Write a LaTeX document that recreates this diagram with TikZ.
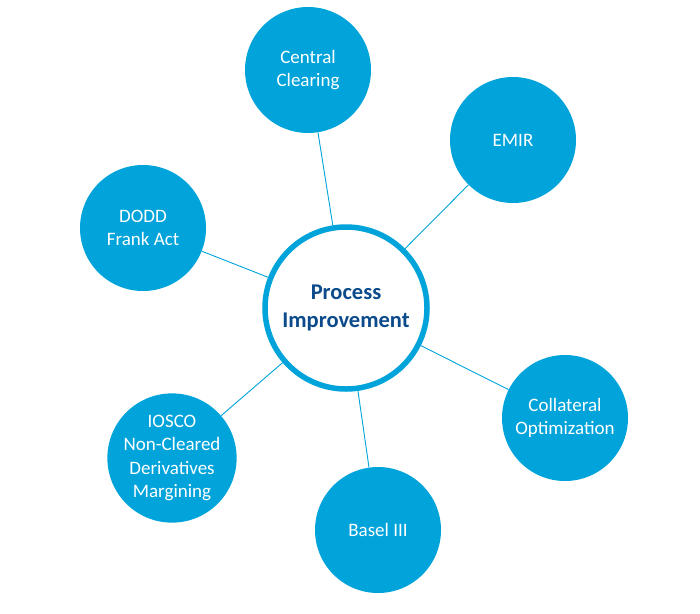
\documentclass[tikz,border=0pt]{standalone}
\usepackage{fontspec}
\setmainfont{Carlito}
\usepackage{tikz}

\definecolor{topicblue}{HTML}{00A3DA}
\definecolor{titleblue}{HTML}{0B4A8B}

\begin{document}
\begin{tikzpicture}[x=1pt, y=-1pt,
  topic/.style={circle, fill=topicblue, minimum size=126pt, inner sep=0pt,
    text=white, align=center, font=\fontsize{19}{23.5}\selectfont},
  hub/.style={circle, draw=topicblue, line width=5.5pt, fill=white,
    minimum size=162pt, inner sep=0pt, text=titleblue, align=center,
    font=\fontsize{22.5}{28}\selectfont\bfseries},
  spoke/.style={draw=topicblue, line width=0.9pt}]
\useasboundingbox (0,0) rectangle (700,613);

\node[hub] (pi) at (346,308) {Process\\Improvement};

\node[topic] (cc) at (308,70) {Central\\Clearing};
\node[topic] (emir) at (513,140) {EMIR};
\node[topic] (dodd) at (143,228) {DODD\\Frank Act};
\node[topic] (coll) at (565,418) {Collateral\\Optimization};
\node[topic] (basel) at (378,530) {Basel III};
\node[topic] (iosco) at (172,458) {IOSCO\\Non-Cleared\\Derivatives\\Margining};

% spokes
\draw[spoke] (pi) -- (cc);
\draw[spoke] (pi) -- (emir);
\draw[spoke] (pi) -- (dodd);
\draw[spoke] (pi) -- (coll);
\draw[spoke] (pi) -- (basel);
\draw[spoke] (pi) -- (iosco);
\end{tikzpicture}
\end{document}
